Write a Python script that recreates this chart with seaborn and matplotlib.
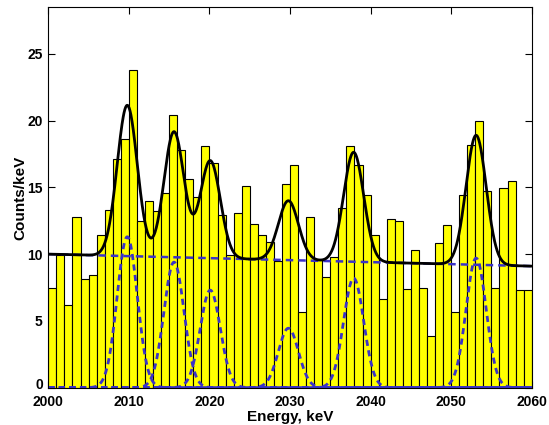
import numpy as np
import pandas as pd
import matplotlib
matplotlib.use("Agg")
import matplotlib.pyplot as plt
import matplotlib.transforms as mtransforms
import seaborn as sns

# histogram: counts per 1 keV bin, bins start at 2000 keV
bin_left = np.arange(2000, 2060)
counts = [7.45, 9.9, 6.2, 12.8, 8.1, 8.4, 11.4, 13.3, 17.1, 18.6,
          23.8, 12.45, 13.95, 13.2, 14.6, 20.45, 17.8, 15.6, 14.3, 18.1,
          16.8, 12.95, 9.9, 13.1, 15.1, 12.25, 11.4, 10.9, 9.45, 15.25,
          16.7, 5.7, 12.75, 9.6, 8.3, 9.8, 13.45, 18.1, 16.65, 14.4,
          11.4, 6.65, 12.6, 12.45, 7.4, 10.3, 7.5, 3.9, 10.8, 12.15,
          5.7, 14.4, 18.15, 20.0, 14.7, 7.5, 14.95, 15.5, 7.3, 7.3]

# fit components: linear background + gaussian peaks
bg_start, bg_end = 10.0, 9.1
peak_centers = [2009.8, 2015.6, 2020.1, 2029.8, 2037.9, 2053.1]
peak_amps = [11.3, 9.4, 7.3, 4.45, 8.2, 9.7]
peak_sigma = 1.25

yellow = "#ffff00"
blue = "#3a32c8"

df = pd.DataFrame({"energy": bin_left + 0.5, "counts": counts})

E = np.linspace(2000, 2060, 1201)
bg = bg_start + (bg_end - bg_start) * (E - 2000) / 60.0
comps = [a * np.exp(-0.5 * ((E - c) / peak_sigma) ** 2)
         for c, a in zip(peak_centers, peak_amps)]
total = bg + np.sum(comps, axis=0)

sns.set_style("ticks")
plt.rcParams["font.family"] = ["Liberation Sans", "DejaVu Sans"]
plt.rcParams["font.weight"] = "bold"
for key in ["text.color", "axes.labelcolor", "xtick.color", "ytick.color",
            "axes.edgecolor"]:
    plt.rcParams[key] = "black"

fig = plt.figure(figsize=(5.49, 4.25), dpi=100)
ax = fig.add_axes([0.088, 0.088, 0.8805, 0.895])

sns.barplot(data=df, x="energy", y="counts", native_scale=True, width=1.0,
            color=yellow, saturation=1, edgecolor="black", linewidth=0.8,
            errorbar=None, ax=ax)

for comp in comps:
    sns.lineplot(x=E, y=comp, color=blue, linestyle=(0, (2.2, 1.6)),
                 linewidth=2.0, ax=ax)
sns.lineplot(x=E, y=bg, color=blue, linestyle=(0, (3, 2)), linewidth=1.8, ax=ax)
sns.lineplot(x=E, y=total, color="black", linewidth=2.0, ax=ax)

ax.set_xlim(2000, 2060)
ax.set_ylim(0, 28.5)
ax.set_xticks(range(2000, 2061, 10))
ax.set_xticklabels([str(v) for v in range(2000, 2061, 10)])
ax.set_yticks(range(0, 26, 5))
ax.set_yticklabels([str(v) for v in range(0, 26, 5)])
ax.tick_params(direction="in", top=True, right=True, length=5, width=0.8,
               labelsize=10)
ax.tick_params(axis="x", pad=5)
ax.tick_params(axis="y", pad=4)
for lab in ax.get_xticklabels() + ax.get_yticklabels():
    lab.set_fontweight("bold")
# lift the "0" a little so it sits just above "2000", as in the original
zero_lab = ax.get_yticklabels()[0]
zero_lab.set_transform(zero_lab.get_transform() +
                       mtransforms.ScaledTranslation(0, 3 / 72, fig.dpi_scale_trans))
for sp in ax.spines.values():
    sp.set_visible(True)
    sp.set_linewidth(0.8)
ax.set_xlabel("Energy, keV", fontsize=11, fontweight="bold", labelpad=1)
ax.set_ylabel("Counts/keV", fontsize=11, fontweight="bold", labelpad=0)

fig.savefig("out.png", dpi=100)
